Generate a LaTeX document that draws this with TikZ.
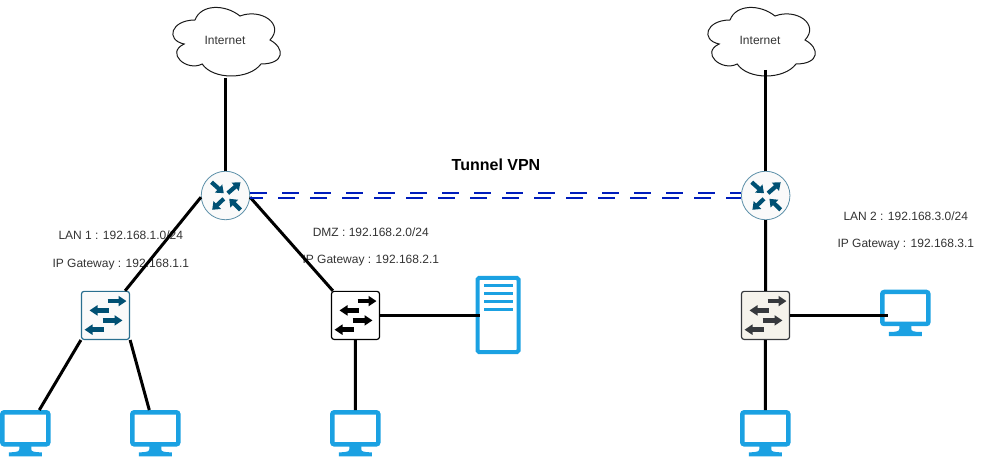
\documentclass[tikz,border=0pt]{standalone}
\usepackage{fontspec}
\setmainfont{Liberation Sans}
\usetikzlibrary{positioning,arrows.meta,calc}
\definecolor{palBlue}{HTML}{1BA1E2}
\definecolor{palTeal}{HTML}{005073}
\definecolor{palEdge}{HTML}{5B8FA8}
\definecolor{palEdgeDk}{HTML}{2A6F8F}
\definecolor{palTunnel}{HTML}{001DBC}
\definecolor{palCream}{HTML}{F5F3EC}
\definecolor{palDark}{HTML}{36393D}
\definecolor{palText}{HTML}{333333}
\definecolor{palPale}{HTML}{FAFAFA}
\tikzset{
  cloudnode/.style={rectangle, minimum width=120pt, minimum height=80pt, inner sep=0pt,
                    outer sep=0pt, font=\fontsize{12}{14}\selectfont, text=palText},
  routernode/.style={circle, draw=palEdge, fill=palPale, line width=0.8pt,
                     minimum size=48.5pt, inner sep=0pt},
  switchnode/.style={rectangle, draw=#1, rounded corners=2.5pt, line width=1.2pt,
                     minimum size=48pt, inner sep=0pt},
  pcnode/.style={rectangle, draw=palBlue, line width=4.5pt, rounded corners=2pt,
                 minimum width=46pt, minimum height=32pt, inner sep=0pt},
  servernode/.style={rectangle, draw=palBlue, line width=4pt, rounded corners=1.5pt,
                     minimum width=41pt, minimum height=74pt, inner sep=0pt},
  wire/.style={line width=3pt, black},
  tunnel/.style={line width=1.8pt, palTunnel, dash pattern=on 16.5pt off 15.5pt},
  infotext/.style={font=\fontsize{12}{14}\selectfont, text=palText},
  bararrow/.style={-{Triangle[length=8pt,width=10pt]}, line width=4.4pt},
  rtarrow/.style={-{Triangle[length=7pt,width=10.5pt]}, line width=4.2pt},
  pics/swarrows/.style={code={
    \draw[bararrow] (2,-14.3) -- (21,-14.3);
    \draw[bararrow] (3.5,-5) -- (-16,-5);
    \draw[bararrow] (-3,5) -- (17,5);
    \draw[bararrow] (-1.5,14.3) -- (-21,14.3);
  }},
  pics/rtarrows/.style={code={
    \draw[rtarrow] (-14,-13.3) -- (-1.7,-2.3);
    \draw[rtarrow] (2.3,-2.3) -- (15,-13.3);
    \draw[rtarrow] (-1.7,3.3) -- (-13.3,14.3);
    \draw[rtarrow] (15,14.3) -- (3.7,3.3);
  }},
  pics/pcstand/.style={code={
    \fill[palBlue] (-6,17) -- (6,17) -- (6,21) .. controls (6,23) and (8,24) .. (16.5,24)
      -- (16.5,28) -- (-16.5,28) -- (-16.5,24) .. controls (-8,24) and (-6,23) .. (-6,21) -- cycle;
  }},
  pics/cloudline/.style={code={
    \draw[line width=1pt, black!90] (-30,-20)
      .. controls (-54,-20) and (-60,0) .. (-40.8,4)
      .. controls (-60,12.8) and (-38.4,32) .. (-22.8,24)
      .. controls (-12,40) and (24,40) .. (36,24)
      .. controls (60,24) and (60,8) .. (45,0)
      .. controls (60,-16) and (36,-32) .. (15,-24)
      .. controls (0,-36) and (-24,-36) .. (-30,-20) -- cycle;
  }},
}
\begin{document}
\begin{tikzpicture}[x=1pt,y=-1pt]
\useasboundingbox (0,0) rectangle (986,457);
%% Labels
\node[font=\bfseries\fontsize{16}{18}\selectfont] (tunnelLbl) at (496,165) {Tunnel VPN};
\node[infotext] (lanA) at (120.8,235.5) {LAN 1 : 192.168.1.0/24};
\node[infotext] (gwA) at (120.8,264.5) {IP Gateway : 192.168.1.1};
\node[infotext] (dmzA) at (370.8,232) {DMZ : 192.168.2.0/24};
\node[infotext] (gwB) at (370.8,261) {IP Gateway : 192.168.2.1};
\node[infotext] (lanB) at (905.8,216) {LAN 2 : 192.168.3.0/24};
\node[infotext] (gwC) at (905.8,245) {IP Gateway : 192.168.3.1};
%% Nodes
\pic at (225,40) {cloudline};
\pic at (760,40) {cloudline};
\node[cloudnode] (inetA) at (225,40.5) {Internet};
\node[cloudnode] (inetB) at (760,40.5) {Internet};
\node[routernode] (routerA) at (225.5,195.5) {};
\node[routernode] (routerB) at (765.7,195.5) {};
\node[switchnode=palEdgeDk, fill=palPale] (swLan) at (105.5,315.4) {};
\node[switchnode=black, fill=white] (swDmz) at (355.5,315.4) {};
\node[switchnode=palDark, fill=palCream] (swLanB) at (765.5,315.4) {};
\node[pcnode] (pcA) at (25.3,428.3) {};
\node[pcnode] (pcB) at (155.3,428.3) {};
\node[pcnode] (pcC) at (355.3,428.3) {};
\node[pcnode] (pcD) at (765.3,428.3) {};
\node[pcnode] (pcE) at (905.3,308) {};
\node[servernode] (server) at (498,315) {};
%% Icon details
\pic[palTeal] at (routerA) {rtarrows};
\pic[palTeal] at (routerB) {rtarrows};
\pic[palTeal] at (swLan) {swarrows};
\pic[black] at (swDmz) {swarrows};
\pic[palDark] at (swLanB) {swarrows};
\foreach \pc in {pcA,pcB,pcC,pcD,pcE}
  \pic at (\pc) {pcstand};
\foreach \rowy in {-29,-21.3,-13.3,-5.7}
  \fill[palBlue] ($(server)+(-14.5,\rowy-1.5)$) rectangle ($(server)+(14.5,\rowy+1.5)$);
%% Edges
\coordinate (inetAout) at (225.4,78);
\coordinate (inetBout) at (765.4,70);
\coordinate (pcEin) at (888.3,315.4);
\coordinate (serverIn) at (480,315.4);
\draw[wire] (inetAout) -- (routerA.north -| inetAout);
\draw[wire] (inetBout) -- (routerB.north -| inetBout);
\draw[wire] (routerA.184) -- ([xshift=-5pt]swLan.north east);
\draw[wire] (routerA.356) -- ([xshift=2pt]swDmz.north west);
\draw[wire] (routerB) -- (swLanB);
\draw[wire] (swLan.south west) -- ([xshift=14pt]pcA.north);
\draw[wire] (swLan.south east) -- ([xshift=-6pt]pcB.north);
\draw[wire] (swDmz) -- (pcC);
\draw[wire] (swDmz) -- (serverIn);
\draw[wire] (swLanB) -- (pcD);
\draw[wire] (swLanB) -- (pcEin);
\draw[tunnel] ([yshift=2.4pt]routerA.east) -- ([yshift=2.4pt]routerB.west);
\draw[tunnel, dash phase=4pt] ([yshift=-2.4pt]routerA.east) -- ([yshift=-2.4pt]routerB.west);
\end{tikzpicture}
\end{document}
